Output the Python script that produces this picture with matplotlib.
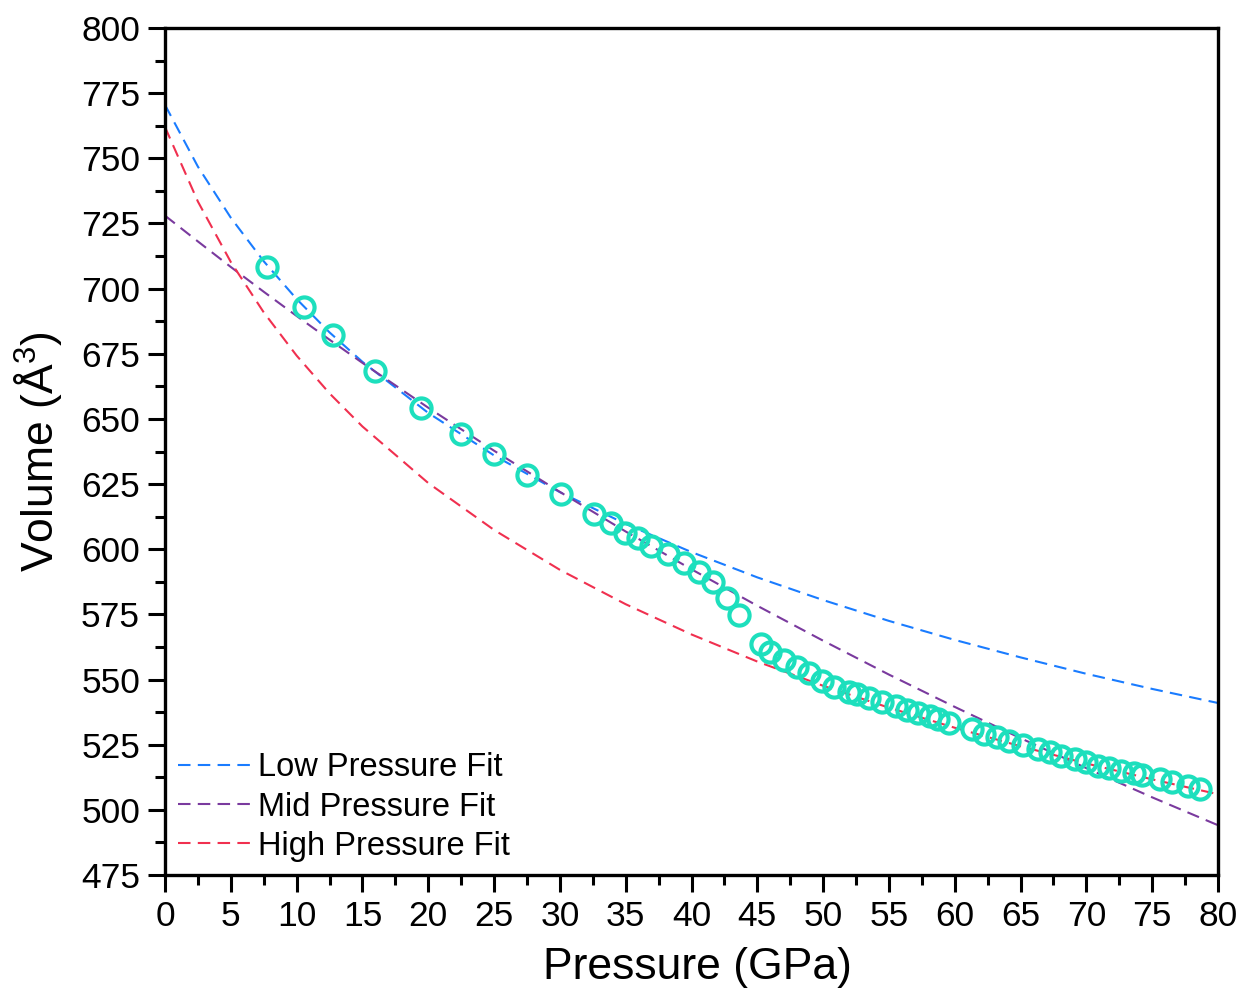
import matplotlib
matplotlib.use("Agg")
import matplotlib.pyplot as plt
from matplotlib.ticker import MultipleLocator

plt.rcParams['font.family'] = ['Liberation Sans', 'DejaVu Sans']
plt.rcParams['mathtext.fontset'] = 'custom'
plt.rcParams['mathtext.rm'] = 'Liberation Sans'
plt.rcParams['mathtext.it'] = 'Liberation Sans:italic'

# Measured data
pressure = [7.75, 10.56, 12.77, 15.96, 19.45, 22.5, 25.0, 27.5, 30.1, 32.6,
            33.9, 34.95, 35.9, 36.9, 38.2, 39.4, 40.6, 41.6, 42.7, 43.6,
            45.3, 46.0, 47.0, 48.0, 48.9, 49.9, 50.8, 52.0, 52.6, 53.5,
            54.5, 55.5, 56.4, 57.2, 58.1, 58.7, 59.6,
            61.3, 62.2, 63.2, 64.1, 65.2, 66.3, 67.2, 68.1, 69.1, 70.0,
            70.9, 71.7, 72.6, 73.6, 74.2, 75.6, 76.5, 77.7, 78.6]
volume = [708.3, 692.9, 682.2, 668.4, 654.2, 644.2, 636.5, 628.5, 621.2, 613.5,
          610.0, 606.2, 604.3, 601.2, 598.2, 594.7, 591.3, 587.4, 581.3, 574.7,
          563.6, 560.6, 557.5, 554.8, 552.5, 549.4, 547.1, 545.2, 544.4, 542.9,
          541.4, 539.8, 538.3, 537.1, 536.0, 534.8, 533.3,
          531.0, 529.1, 527.9, 526.4, 524.9, 523.3, 522.2, 520.6, 519.5, 518.3,
          516.8, 516.0, 514.9, 514.1, 513.4, 511.8, 510.7, 509.1, 508.0]

# Fit curves
fit_p = [0, 2.5, 5, 7.5, 10, 12.5, 15, 20, 25, 30, 35, 40, 45, 50, 55, 60, 65, 70, 75, 80]
low_fit = [770.5, 746.8, 727.2, 710.5, 696.0, 683.2, 671.9, 652.3, 636.0, 621.9,
           609.7, 598.9, 589.2, 580.5, 572.5, 565.2, 558.5, 552.2, 546.4, 541.0]
mid_fit = [728.0, 718.1, 708.3, 698.8, 689.5, 680.4, 671.5, 654.3, 637.8, 622.0,
           606.8, 592.3, 578.3, 564.9, 551.9, 539.5, 527.5, 516.0, 504.8, 494.1]
high_fit = [762.0, 733.4, 710.2, 690.9, 674.3, 659.8, 647.1, 625.4, 607.4, 592.1,
            578.9, 567.3, 556.9, 547.6, 539.2, 531.5, 524.4, 517.8, 511.7, 506.0]

labels = ['Low Pressure Fit', 'Mid Pressure Fit', 'High Pressure Fit']
colors = ['#1a7cff', '#7a3a9e', '#f0304f']

fig = plt.figure(figsize=(12.42, 9.96), dpi=100)
ax = fig.add_axes([165/1242, 1-875/996, (1218-165)/1242, (875-28)/996])

for y, lab, c in zip([low_fit, mid_fit, high_fit], labels, colors):
    ax.plot(fit_p, y, color=c, lw=1.5, dashes=(6, 3.5), label=lab, zorder=2)

ax.plot(pressure, volume, linestyle='none', marker='o', markersize=14.5,
        markerfacecolor='none', markeredgecolor='#1ddfbd', markeredgewidth=3.0,
        zorder=3)

ax.set_xlim(0, 80)
ax.set_ylim(475, 800)
ax.xaxis.set_major_locator(MultipleLocator(5))
ax.xaxis.set_minor_locator(MultipleLocator(2.5))
ax.yaxis.set_major_locator(MultipleLocator(25))
ax.yaxis.set_minor_locator(MultipleLocator(12.5))

for s in ax.spines.values():
    s.set_linewidth(2.4)
ax.tick_params(which='major', direction='out', length=12, width=2.2,
               labelsize=25.5, pad=6, top=False, right=False)
ax.tick_params(which='minor', direction='out', length=7, width=2.2,
               top=False, right=False)

ax.set_xlabel('Pressure (GPa)', fontsize=32, labelpad=12)
ax.xaxis.set_label_coords(0.506, -0.085)
ax.set_ylabel('Volume (Å$^{3}$)', fontsize=32, labelpad=12)

leg = ax.legend(loc='lower left', frameon=False, fontsize=23.5,
                handlelength=2.3, handletextpad=0.15, labelspacing=0.25,
                borderaxespad=0.2, bbox_to_anchor=(-0.0066, -0.0075))

fig.savefig('out.png', dpi=100)
